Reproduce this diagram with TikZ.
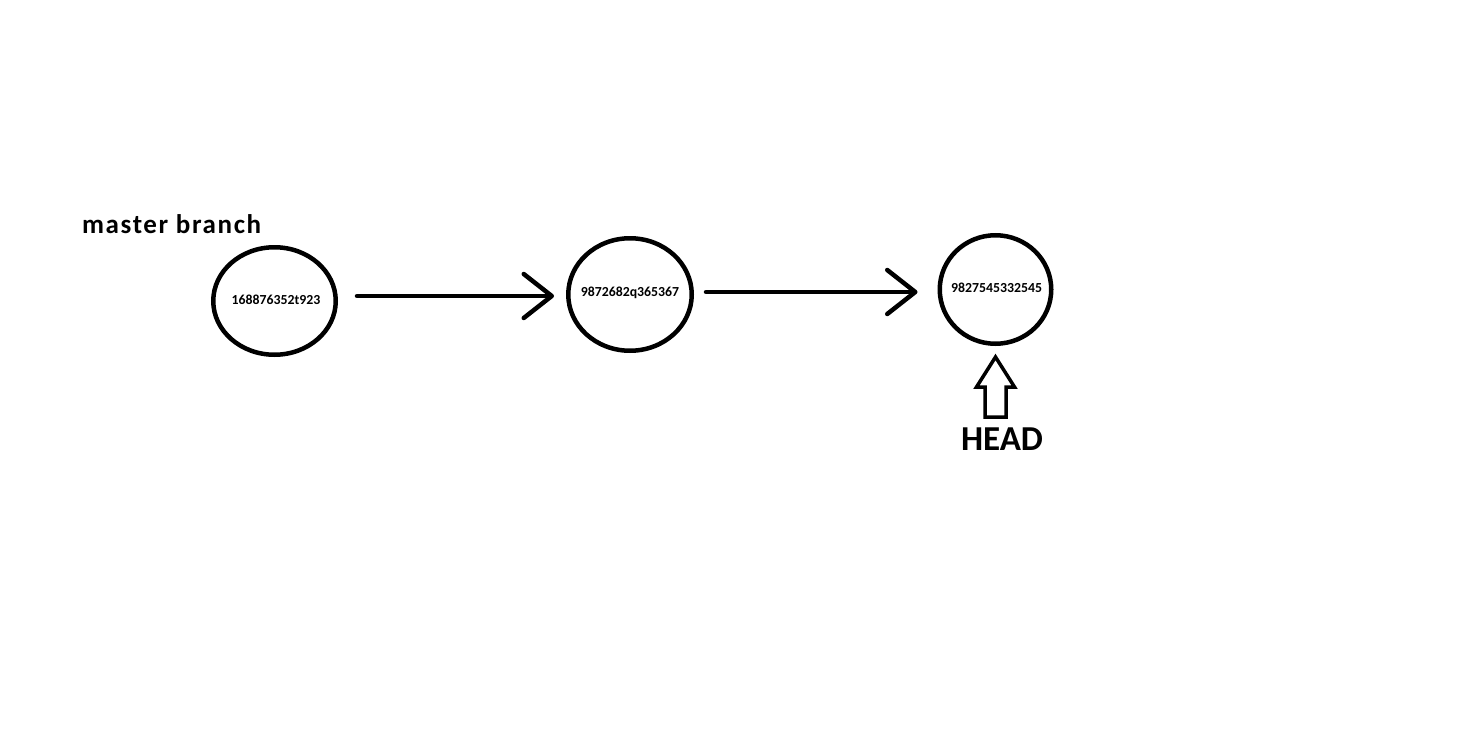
\documentclass[tikz,border=0pt]{standalone}
\usepackage{fontspec}
\setmainfont{Carlito}
\usetikzlibrary{shapes.geometric,arrows.meta,calc}
\begin{document}
\begin{tikzpicture}[x=1pt,y=-1pt,
  commit/.style={ellipse,draw,line width=4.5pt,inner sep=0pt},
  hash/.style={inner sep=0pt,font=\fontsize{13.8}{14}\selectfont\bfseries},
  link/.style={line width=4.5pt,line cap=round,
    -{Straight Barb[length=28pt,width=44pt,line cap=round,line join=round]}},
  tag/.style={font=\fontsize{27}{28}\selectfont\bfseries,inner sep=0pt}]
\useasboundingbox[fill=white] (0,0) rectangle (1484,736);

% commits
\node[commit,minimum width=122.5pt,minimum height=107.5pt] (c1) at (274.5,301) {};
\node[commit,minimum width=123.5pt,minimum height=112.5pt] (c2) at (630,294.5) {};
\node[commit,minimum width=111.5pt,minimum height=108.5pt] (c3) at (995.5,289.5) {};
\node[hash] (h1) at (276,300) {168876352t923};
\node[hash] (h2) at (630,293) {9872682q365367};
\node[hash] (h3) at (996.5,288) {9827545332545};

% branch label
\node[tag,anchor=base west] (branch) at (82,233)
  {\addfontfeature{LetterSpace=6}master branch};

% links between commits
\draw[link,shorten <=19pt,shorten >=12pt] ([yshift=5pt]c1.east) -- ([yshift=-1.5pt]c2.west);
\draw[link,shorten <=12pt,shorten >=20pt] ([yshift=2.5pt]c2.east) -- ([yshift=-2.5pt]c3.west);

% HEAD pointer
\node[tag,font=\fontsize{35}{36}\selectfont\bfseries,anchor=base] (head) at (1002,450) {HEAD};
\coordinate (tip) at ($(c3.south)+(0,11)$);
\draw[line width=3.5pt,line join=miter]
  (tip) -- ++(19,30) -- ++(-8.5,0) -- ++(0,30) -- ++(-21,0) -- ++(0,-30) -- ++(-8.5,0) -- cycle;
\end{tikzpicture}
\end{document}
